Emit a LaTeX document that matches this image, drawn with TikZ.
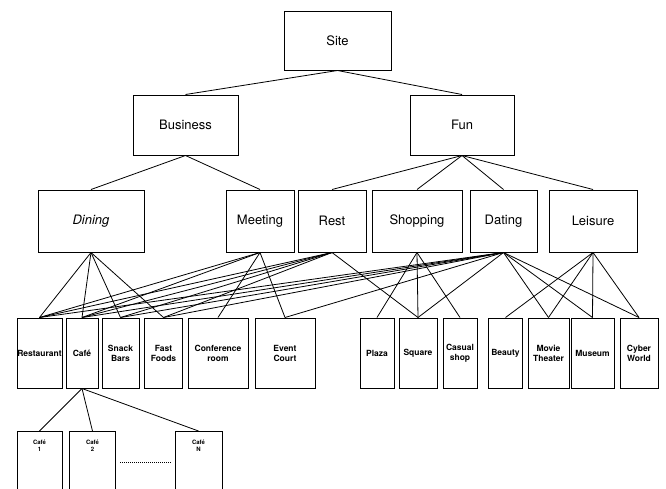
\documentclass[tikz,border=0pt]{standalone}
\usepackage{fontspec}
\setmainfont{TeX Gyre Heros}
\begin{document}
\begin{tikzpicture}[x=1pt,y=-1pt,
  box/.style={draw,line width=1pt,inner sep=0pt,align=center,minimum height=60pt,font=\fontsize{13}{15}\selectfont},
  leaf/.style={draw,line width=1pt,inner sep=0pt,align=center,minimum height=70pt,font=\fontsize{8.5}{10}\selectfont\bfseries},
  subleaf/.style={draw,line width=1pt,inner xsep=0pt,inner ysep=8pt,anchor=north,align=center,text depth=42pt,font=\fontsize{6}{7.5}\selectfont\bfseries},
  link/.style={line width=.8pt}]
  \useasboundingbox (0,0) rectangle (666,488);

  \node[box,minimum width=107pt,minimum height=59pt] (site) at (337.5,40.5) {Site};

  \node[box,minimum width=105pt] (business) at (185.5,125) {Business};
  \node[box,minimum width=104pt] (fun) at (462,125) {Fun};

  \node[box,minimum width=106pt,minimum height=62pt] (dining) at (91,221) {\itshape Dining};
  \node[box,minimum width=68pt,minimum height=62pt] (meeting) at (260,221) {Meeting};
  \node[box,minimum width=68pt,minimum height=62pt] (rest) at (332,221) {Rest};
  \node[box,minimum width=90pt,minimum height=62pt] (shopping) at (417,221) {Shopping};
  \node[box,minimum width=67pt,minimum height=62pt] (dating) at (503.5,221) {Dating};
  \node[box,minimum width=88pt,minimum height=62pt] (leisure) at (593,221) {Leisure};

  \node[leaf,minimum width=45pt] (restaurant) at (39.5,353) {Restaurant};
  \node[leaf,minimum width=32pt] (cafe) at (82,353) {Café};
  \node[leaf,minimum width=37pt] (snack) at (120.5,353) {Snack\\Bars};
  \node[leaf,minimum width=38pt] (fastfood) at (163.5,353) {Fast\\Foods};
  \node[leaf,minimum width=60pt] (conference) at (218,353) {Conference\\room};
  \node[leaf,minimum width=60pt] (event) at (285,353) {Event\\Court};
  \node[leaf,minimum width=34pt] (plaza) at (377,353) {Plaza};
  \node[leaf,minimum width=38pt] (square) at (418,353) {Square};
  \node[leaf,minimum width=34pt] (casual) at (460,353) {Casual\\shop};
  \node[leaf,minimum width=34pt] (beauty) at (505.5,353) {Beauty};
  \node[leaf,minimum width=41pt] (movie) at (548.5,353) {Movie\\Theater};
  \node[leaf,minimum width=43pt] (museum) at (592.5,353) {Museum};
  \node[leaf,minimum width=38pt] (cyber) at (639,353) {Cyber\\World};

  \node[subleaf,minimum width=45pt] (cafe1) at (39.5,431) {Café\\1};
  \node[subleaf,minimum width=46pt] (cafe2) at (92.5,431) {Café\\2};
  \node[subleaf,minimum width=47pt] (cafeN) at (198.5,431) {Café\\N};

  \foreach \a/\b in {site/business,site/fun,
      business/dining,business/meeting,
      fun/rest,fun/shopping,fun/dating,fun/leisure,
      dining/restaurant,dining/cafe,dining/snack,dining/fastfood,
      meeting/restaurant,meeting/cafe,meeting/conference,meeting/event,
      rest/restaurant,rest/cafe,rest/snack,rest/fastfood,rest/square,
      shopping/plaza,shopping/square,shopping/casual,
      dating/restaurant,dating/cafe,dating/snack,dating/fastfood,dating/event,
      dating/square,dating/movie,dating/museum,dating/cyber,
      leisure/beauty,leisure/movie,leisure/museum,leisure/cyber,
      cafe/cafe1,cafe/cafe2,cafe/cafeN}
    \draw[link] (\a.south) -- (\b.north);

  \draw[densely dotted,line width=1pt,shorten <=4pt,shorten >=4pt] (cafe2.east |- 0,462) -- (cafeN.west |- 0,462);
\end{tikzpicture}
\end{document}
